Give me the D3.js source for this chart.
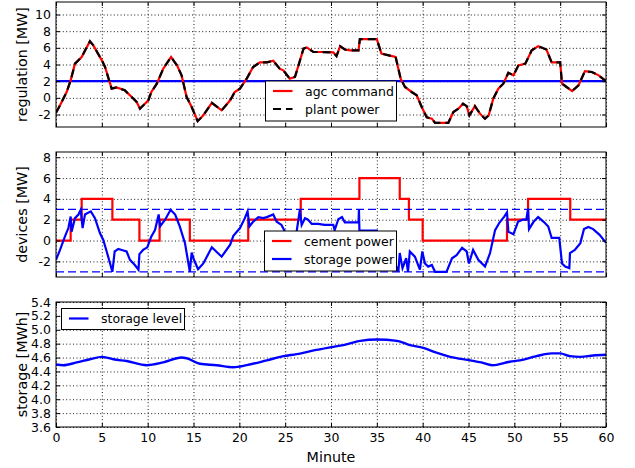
<!DOCTYPE html>
<html>
<head>
<meta charset="utf-8">
<script src="https://cdnjs.cloudflare.com/ajax/libs/d3/7.8.5/d3.min.js"></script>
<style>
body { margin: 0; background: #fff; }
text { font-family: "DejaVu Sans", sans-serif; fill: #000; }
.grid line { stroke: #000; stroke-width: 0.9; stroke-dasharray: 1,2.4; }
.grid path { display: none; }
.axis path { display: none; }
.axis line { stroke: #000; stroke-width: 1; }
.axis text { font-size: 12.5px; }
.legend text { font-size: 12.5px; }
</style>
</head>
<body>
<svg id="chart"></svg>
<script>

// ---- data ----
var minuteTicks = [0, 5, 10, 15, 20, 25, 30, 35, 40, 45, 50, 55, 60];
var regulationTicks = [-2, 0, 2, 4, 6, 8, 10];
var devicesTicks = [-2, 0, 2, 4, 6, 8];
var storageTicks = [3.6, 3.8, 4.0, 4.2, 4.4, 4.6, 4.8, 5.0, 5.2, 5.4];

var agcOffset = 2;          // blue line in top panel
var storageLimits = [-3, 3]; // dashed blue lines in middle panel

// [minute, MW]
var agcCommand = [[0,-1.8],[0.44,-0.9],[1.16,0.7],[1.6,2.1],[2.07,4.1],[2.8,4.9],[3.7,6.8],[4.07,6.3],
  [5.0,4.5],[5.35,3.7],[6.07,1.1],[6.6,1.25],[7.5,0.9],[8.26,0.1],[8.8,-0.5],[9.16,-1.3],[10.07,-0.3],
  [10.4,0.7],[11,1.7],[11.7,3.5],[12.55,4.9],[13.2,3.9],[13.7,2.7],[14.25,0.1],[14.8,-1.1],[15.45,-2.8],
  [16.07,-2.1],[17,-0.6],[18.07,-1.5],[19,-0.3],[19.5,0.7],[20.07,1.1],[20.8,2.3],[21.5,3.7],[22.25,4.25],
  [23,4.25],[23.7,4.45],[24.4,3.5],[24.8,3.3],[25.5,2.3],[26.07,2.5],[26.4,3.7],[27,5.9],[27.35,6.05],
  [28.07,5.5],[29,5.5],[30.25,5.45],[30.6,5.0],[31,6.2],[31.5,5.8],[32.07,5.7],[33,5.7],[33.15,7.05],
  [35,7.05],[35.5,5.3],[36.3,5.1],[37.05,4.9],[37.6,2.3],[38.07,1.3],[38.8,0.7],[39.35,0.3],[39.9,-1.1],
  [40.45,-2.35],[41,-2.5],[41.35,-3.0],[42.8,-3.0],[43.35,-1.7],[43.9,-1.3],[44.4,-0.7],[44.8,-1.0],
  [45.1,-2.1],[45.7,-1.0],[46.25,-1.9],[46.8,-2.5],[47.2,-2.1],[47.7,-0.1],[48.25,1.1],[48.8,1.7],
  [49.35,3.0],[49.9,2.7],[50.45,3.9],[51.2,4.1],[51.9,5.7],[52.6,6.2],[53.5,5.8],[54.07,4.25],[55,4.25],
  [55.2,1.7],[55.7,1.3],[56.3,0.8],[57,1.5],[57.7,3.2],[58.45,3.1],[59.2,2.7],[60,2.0]];

var plantPower = [[0,-1.8],[0.44,-0.9],[1.16,0.7],[1.6,2.1],[2.07,4.1],[2.8,4.9],[3.7,6.8],[4.07,6.3],
  [5.0,4.5],[5.35,3.7],[6.07,1.1],[6.6,1.25],[7.5,0.9],[8.26,0.1],[8.8,-0.5],[9.16,-1.3],[10.07,-0.3],
  [10.4,0.7],[11,1.7],[11.7,3.5],[12.55,4.9],[13.2,3.9],[13.7,2.7],[14.25,0.1],[14.8,-1.1],[15.45,-2.8],
  [16.07,-2.1],[17,-0.6],[18.07,-1.5],[19,-0.3],[19.5,0.7],[20.07,1.1],[20.8,2.3],[21.5,3.7],[22.25,4.25],
  [23,4.25],[23.7,4.45],[24.4,3.5],[24.8,3.3],[25.5,2.3],[26.07,2.5],[26.4,3.7],[27,5.9],[27.35,6.05],
  [28.07,5.5],[29,5.5],[30.25,5.45],[30.6,5.0],[31,6.2],[31.5,5.8],[32.07,5.7],[33,5.7],[33.15,7.05],
  [35,7.05],[35.5,5.3],[36.3,5.1],[37.05,4.9],[37.6,2.3],[38.07,1.3],[38.8,0.7],[39.35,0.3],[39.9,-1.1],
  [40.45,-2.35],[41,-2.5],[41.35,-3.0],[42.8,-3.0],[43.35,-1.7],[43.9,-1.3],[44.4,-0.7],[44.8,-1.0],
  [45.1,-2.1],[45.7,-1.0],[46.25,-1.9],[46.8,-2.5],[47.2,-2.1],[47.7,-0.1],[48.25,1.1],[48.8,1.7],
  [49.35,3.0],[49.9,2.7],[50.45,3.9],[51.2,4.1],[51.9,5.7],[52.6,6.2],[53.5,5.8],[54.07,4.25],[55,4.25],
  [55.2,1.7],[55.7,1.3],[56.3,0.8],[57,1.5],[57.7,3.2],[58.45,3.1],[59.2,2.7],[60,2.0]];

// step changes [minute, MW]
var cementPower = [[0,0],[1.6,2],[2.8,4],[6.15,2],[9.1,0],[11.3,2],[14.6,0],[20.97,2],[26.7,4],
  [33.1,6],[37.5,4],[38.5,2],[40,0],[49.2,2],[51.5,4],[56.1,2],[60,2]];

var storagePower = [[0,-1.85],[0.44,-0.9],[0.98,0.4],[1.35,1.2],[1.6,2.3],[1.7,0.85],[2.07,2.15],
  [2.45,2.5],[2.7,2.95],[2.9,1.2],[3.16,2.5],[3.35,2.6],[3.8,2.8],[4.25,2.15],[4.8,0.7],[5.16,0.05],
  [5.53,-1.05],[5.9,-2.2],[6.15,-3.0],[6.4,-1.05],[6.8,-0.8],[7.35,-0.95],[7.7,-1.05],[8.07,-1.85],
  [8.6,-2.35],[9.0,-2.8],[9.1,-1.3],[9.5,-0.9],[9.96,-0.65],[10.4,0.4],[10.8,1.0],[11.2,2.5],[11.35,1.35],
  [11.9,2.0],[12.5,2.95],[13,2.5],[13.5,1.35],[14.07,-0.25],[14.6,-3.0],[14.8,-1.15],[15.05,-1.85],
  [15.5,-2.75],[16.07,-2.2],[17,-0.65],[18.07,-1.55],[19,-0.4],[19.35,0.45],[20.07,1.2],[20.6,2.15],
  [20.9,2.8],[21.1,1.35],[21.5,1.8],[22.07,2.25],[22.6,2.15],[23,2.25],[23.7,2.5],[24.07,1.8],[24.6,1.5],
  [24.98,0.85],[25.5,0.3],[26.25,0.85],[26.6,2.95],[26.8,1.5],[27.16,2.15],[27.5,2.0],[27.9,1.6],
  [28.6,1.6],[29.3,1.5],[30.25,1.5],[30.4,1.0],[30.8,2.05],[31.2,2.25],[31.5,1.75],[33,1.75],[33.05,2.95],
  [33.1,0.95],[35,0.95],[35.4,-1.0],[36.5,-1.2],[37.35,-3.0],[37.5,-1.2],[37.8,-2.65],[38.2,-1.7],
  [38.4,-3.0],[38.6,-1.05],[39.15,-1.55],[39.7,-2.8],[39.96,-1.05],[40.25,-2.2],[40.6,-2.5],[41,-2.35],
  [41.35,-3.0],[42.6,-3.0],[43.2,-1.7],[43.7,-1.4],[44.3,-0.7],[44.8,-1.05],[45.05,-2.2],[45.5,-0.9],
  [46.07,-1.85],[46.8,-2.5],[47.35,-1.2],[47.9,1.0],[48.4,1.75],[48.9,2.3],[49.2,2.7],[49.35,0.85],
  [49.9,0.6],[50.4,1.8],[50.9,2.0],[51.3,2.0],[51.5,3.05],[51.6,1.1],[52.1,1.8],[52.6,2.25],[53.2,1.8],
  [53.7,1.35],[54.07,0.25],[54.9,0.25],[55.2,-2.2],[55.55,-2.5],[56,-2.65],[56.07,-1.2],[56.6,-0.9],
  [57.2,-0.25],[57.6,1.1],[58.07,1.3],[58.6,1.1],[59.3,0.55],[59.9,-0.1],[60,-0.2]];

// [minute, MWh]
var storageLevel = [[0,4.50],[0.8,4.49],[2.25,4.53],[3.7,4.575],[5,4.61],[5.5,4.60],[6.25,4.575],
  [7.7,4.55],[9.9,4.49],[11.7,4.53],[13.7,4.60],[14.25,4.59],[15.7,4.51],[17.5,4.49],[19.35,4.46],
  [20.8,4.49],[23,4.56],[24.8,4.62],[26.25,4.65],[28.4,4.71],[30.07,4.75],[31.35,4.78],[33.2,4.84],
  [35,4.86],[37.2,4.84],[38.6,4.78],[40.07,4.74],[41.5,4.67],[43,4.61],[45.2,4.56],[46.4,4.53],
  [47.6,4.49],[49.5,4.54],[50.6,4.56],[52.4,4.62],[54.07,4.66],[55,4.66],[56.07,4.62],[57.2,4.61],
  [58.6,4.63],[60,4.64]];

// ---- layout ----
var margin = {left: 56, right: 29},
    width = 635 - margin.left - margin.right,
    panelHeight = 125;

var svg = d3.select("#chart")
    .attr("width", 635)
    .attr("height", 468);

var x = d3.scaleLinear().domain([0, 60]).range([0, width]);

function hyphen(d) { return String(d).replace("\u2212", "-"); }

function makePanel(top, domain, ticks, label, fmt, showX, id) {
  var y = d3.scaleLinear().domain(domain).range([panelHeight, 0]);
  var g = svg.append("g").attr("transform", "translate(" + margin.left + "," + top + ")");

  g.append("clipPath").attr("id", id)
    .append("rect").attr("width", width).attr("height", panelHeight);

  // dotted grid
  g.append("g").attr("class", "grid")
    .call(d3.axisLeft(y).tickValues(ticks).tickSize(-width).tickFormat(""));
  g.append("g").attr("class", "grid")
    .attr("transform", "translate(0," + panelHeight + ")")
    .call(d3.axisBottom(x).tickValues(minuteTicks).tickSize(-panelHeight).tickFormat(""));

  var plot = g.append("g").attr("clip-path", "url(#" + id + ")");

  // frame + inward ticks on all sides
  var deco = g.append("g");
  deco.append("rect")
    .attr("width", width).attr("height", panelHeight)
    .attr("fill", "none").attr("stroke", "#000").attr("stroke-width", 1);
  deco.append("g").attr("class", "axis")
    .call(d3.axisLeft(y).tickValues(ticks).tickSize(-4).tickPadding(5).tickFormat(fmt));
  deco.append("g").attr("class", "axis")
    .attr("transform", "translate(" + width + ",0)")
    .call(d3.axisRight(y).tickValues(ticks).tickSize(-4).tickFormat(""));
  deco.append("g").attr("class", "axis")
    .call(d3.axisTop(x).tickValues(minuteTicks).tickSize(-4).tickFormat(""));
  deco.append("g").attr("class", "axis")
    .attr("transform", "translate(0," + panelHeight + ")")
    .call(d3.axisBottom(x).tickValues(minuteTicks).tickSize(-4).tickPadding(6)
      .tickFormat(showX ? function(d) { return d; } : ""));

  svg.append("text")
    .attr("transform", "translate(27," + (top + panelHeight / 2) + ") rotate(-90)")
    .style("text-anchor", "middle")
    .style("font-size", "14.3px")
    .text(label);

  return {g: g, plot: plot, deco: deco, y: y};
}

function addLegend(parent, lx, ly, w, h, items) {
  var lg = parent.append("g").attr("class", "legend");
  lg.append("rect")
    .attr("x", lx).attr("y", ly).attr("width", w).attr("height", h)
    .attr("fill", "#fff").attr("stroke", "#000").attr("stroke-width", 1);
  items.forEach(function(it, i) {
    var yy = ly + 10 + i * 18;
    lg.append("line")
      .attr("x1", lx + 7.5).attr("x2", lx + 27)
      .attr("y1", yy).attr("y2", yy)
      .attr("stroke", it.color).attr("stroke-width", 2.2)
      .attr("stroke-dasharray", it.dash || null);
    lg.append("text")
      .attr("x", lx + 39.5).attr("y", yy + 4.5)
      .text(it.name);
  });
}

var lineGen = function(y, curve) {
  return d3.line()
    .x(function(d) { return x(d[0]); })
    .y(function(d) { return y(d[1]); })
    .curve(curve || d3.curveLinear);
};

/** top panel: regulation **/
var p1 = makePanel(2, [-3.5, 11.5], regulationTicks, "regulation [MW]", hyphen, false, "clip1");

p1.plot.append("line")
  .attr("x1", 0).attr("x2", width)
  .attr("y1", p1.y(agcOffset)).attr("y2", p1.y(agcOffset))
  .attr("stroke", "#0000ff").attr("stroke-width", 2.2);

p1.plot.append("path").datum(agcCommand)
  .attr("d", lineGen(p1.y))
  .attr("fill", "none").attr("stroke", "#ff0000").attr("stroke-width", 2.2);

p1.plot.append("path").datum(plantPower)
  .attr("d", lineGen(p1.y))
  .attr("fill", "none").attr("stroke", "#000").attr("stroke-width", 2.2)
  .attr("stroke-dasharray", "8,5");

addLegend(p1.deco, 209.5, 79, 131, 40, [
  {name: "agc command", color: "#ff0000"},
  {name: "plant power", color: "#000", dash: "8,5"}
]);

/** middle panel: devices **/
var p2 = makePanel(152, [-3.5, 8.5], devicesTicks, "devices [MW]", hyphen, false, "clip2");

p2.plot.append("path").datum(cementPower)
  .attr("d", lineGen(p2.y, d3.curveStepAfter))
  .attr("fill", "none").attr("stroke", "#ff0000").attr("stroke-width", 2.2);

p2.plot.append("path").datum(storagePower)
  .attr("d", lineGen(p2.y))
  .attr("fill", "none").attr("stroke", "#0000ff").attr("stroke-width", 2.2);

p2.plot.selectAll(".limit")
  .data(storageLimits)
  .enter()
  .append("line")
    .attr("class", "limit")
    .attr("x1", 0).attr("x2", width)
    .attr("y1", function(d) { return p2.y(d); })
    .attr("y2", function(d) { return p2.y(d); })
    .attr("stroke", "#0000ff").attr("stroke-width", 1.2)
    .attr("stroke-dasharray", "8,4");

addLegend(p2.deco, 208.5, 79, 132, 40, [
  {name: "cement power", color: "#ff0000"},
  {name: "storage power", color: "#0000ff"}
]);

/** bottom panel: storage level **/
var p3 = makePanel(302, [3.6, 5.4], storageTicks, "storage [MWh]", d3.format(".1f"), true, "clip3");

p3.plot.append("path").datum(storageLevel)
  .attr("d", lineGen(p3.y, d3.curveMonotoneX))
  .attr("fill", "none").attr("stroke", "#0000ff").attr("stroke-width", 2.4);

addLegend(p3.deco, 5.5, 6.5, 123, 21, [
  {name: "storage level", color: "#0000ff"}
]);

svg.append("text")
  .attr("x", margin.left + width / 2)
  .attr("y", 461.5)
  .style("text-anchor", "middle")
  .style("font-size", "14.3px")
  .text("Minute");

</script>
</body>
</html>
